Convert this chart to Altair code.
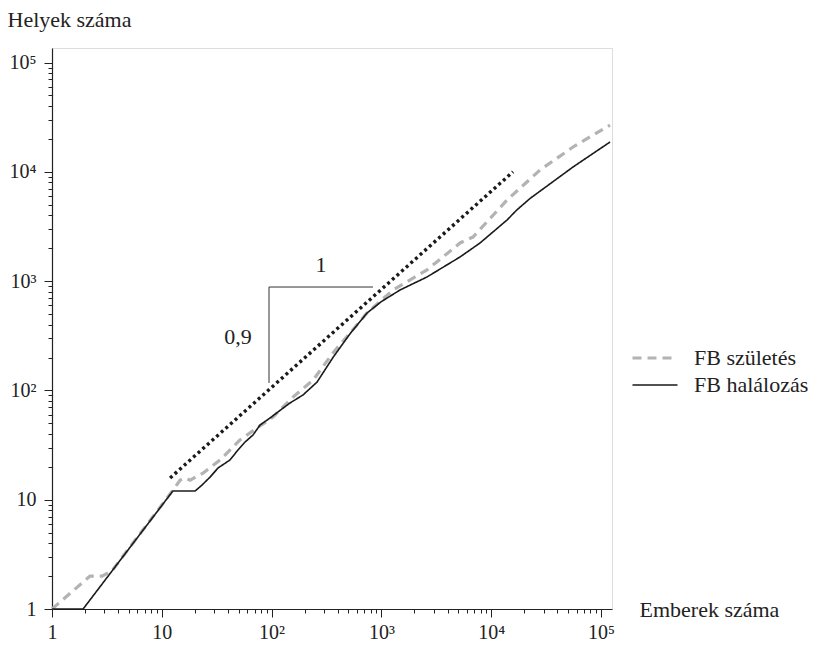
import altair as alt
import pandas as pd

# ---- data ----
birth_x = [1, 2.22, 2.85, 3.5, 11.9, 14.7, 16.3, 18.1, 23.7, 33.9, 51.5, 73.6, 103, 157, 238, 362,
           740, 1276, 2600, 5200, 6820, 13930, 27800, 55600, 120800]
birth_y = [1, 2.0, 2.0, 2.22, 11.3, 15.1, 15.8, 15.1, 17.5, 23.1, 35.2, 45.3, 57.1, 87, 124, 220,
           511, 829, 1265, 2233, 2530, 5520, 10380, 16870, 26800]

death_x = [1, 1.92, 12.6, 20.1, 23.2, 27.5, 32.5, 41.8, 49.4, 57.3, 67.7, 78.4, 96.7, 114, 147, 193,
           259, 362, 518, 740, 1000, 1476, 2600, 5200, 7910, 13930, 17000, 22550, 55600, 120800]
death_y = [1, 1, 12.0, 12.0, 13.6, 16.1, 19.5, 23.1, 28.5, 33.7, 39.1, 48.2, 55.9, 63.4, 76.7, 90.8,
           119, 200, 330, 511, 650, 829, 1091, 1663, 2233, 3622, 4450, 5700, 11070, 18740]

series_names = ["FB születés", "FB halálozás"]

fit_x = [11.9, 15800]
fit_y = [15.8, 10000]

tri_x = [94.7, 94.7, 838]
tri_y = [117, 883, 883]

ann_text = ["1", "0,9"]
ann_x = [282, 49.4]
ann_y = [1403, 308]

tick_vals = [m * 10 ** e for e in range(0, 5) for m in range(1, 10)] + [100000]

x_title = "Emberek száma"
y_title = "Helyek száma"

# ---- tables ----
rows = []
for i, (x, y) in enumerate(zip(birth_x, birth_y)):
    rows.append({"x": x, "y": y, "series": series_names[0], "i": i})
for i, (x, y) in enumerate(zip(death_x, death_y)):
    rows.append({"x": x, "y": y, "series": series_names[1], "i": i})
df = pd.DataFrame(rows)
fit_df = pd.DataFrame({"x": fit_x, "y": fit_y})
tri_df = pd.DataFrame({"x": tri_x, "y": tri_y, "i": list(range(len(tri_x)))})
ann_df = pd.DataFrame({"x": ann_x, "y": ann_y, "t": ann_text})

FONT = "Liberation Serif"
major_test = "indexof([1,10,100,1000,10000,100000], datum.value) >= 0"
label_expr = ("datum.value == 1 ? '1' : datum.value == 10 ? '10' : datum.value == 100 ? '10²' : "
              "datum.value == 1000 ? '10³' : datum.value == 10000 ? '10⁴' : "
              "datum.value == 100000 ? '10⁵' : ''")

xscale = alt.Scale(type="log", domain=[1, 125900], nice=False)
yscale = alt.Scale(type="log", domain=[1, 135800], nice=False)

xaxis = alt.Axis(values=tick_vals, labelExpr=label_expr, grid=False,
                 tickSize={"condition": {"test": major_test, "value": 8}, "value": 4},
                 tickColor="#222", domainColor="#222", tickWidth=1, domainWidth=1.2,
                 labelFont=FONT, labelFontSize=20, labelColor="#222", labelPadding=5,
                 labelFlush=False, labelOverlap=False, labelBound=False,
                 title=x_title, titleFont=FONT, titleFontSize=22, titleFontWeight="normal",
                 titleColor="#222", titleAngle=0, titleAlign="left", titleBaseline="middle",
                 titleX=587, titleY=0)
yaxis = alt.Axis(values=tick_vals, labelExpr=label_expr, grid=False,
                 tickSize={"condition": {"test": major_test, "value": 8}, "value": 4},
                 tickColor="#222", domainColor="#222", tickWidth=1, domainWidth=1.2,
                 labelFont=FONT, labelFontSize=20, labelColor="#222", labelPadding=8,
                 labelFlush=False, labelOverlap=False, labelBound=False,
                 title=y_title, titleFont=FONT, titleFontSize=22, titleFontWeight="normal",
                 titleColor="#222", titleAngle=0, titleAlign="left", titleBaseline="middle",
                 titleX=-45, titleY=-29)

legend = alt.Legend(title=None, orient="none", legendX=586, legendY=293,
                    symbolType="M-1.5,0H1.5", symbolSize=900, labelFont=FONT, labelFontSize=22,
                    labelColor="#222", labelOffset=22, rowPadding=0, padding=0,
                    symbolStrokeWidth=3)

curves = alt.Chart(df).mark_line(strokeCap="butt").encode(
    x=alt.X("x:Q", scale=xscale, axis=xaxis),
    y=alt.Y("y:Q", scale=yscale, axis=yaxis),
    color=alt.Color("series:N", scale=alt.Scale(domain=series_names, range=["#b3b3b3", "#1a1a1a"]),
                    legend=legend),
    strokeDash=alt.StrokeDash("series:N", scale=alt.Scale(domain=series_names, range=[[9, 6], [1, 0]]),
                              legend=legend),
    strokeWidth=alt.StrokeWidth("series:N", scale=alt.Scale(domain=series_names, range=[3.2, 1.6]),
                                legend=legend),
    order="i:Q",
)

fit = alt.Chart(fit_df).mark_line(color="#1a1a1a", strokeWidth=3.4, strokeDash=[3, 3.2],
                                  strokeCap="butt").encode(
    x=alt.X("x:Q", scale=xscale), y=alt.Y("y:Q", scale=yscale))

tri = alt.Chart(tri_df).mark_line(color="#333", strokeWidth=1).encode(
    x=alt.X("x:Q", scale=xscale), y=alt.Y("y:Q", scale=yscale), order="i:Q")

ann = alt.Chart(ann_df).mark_text(font=FONT, fontSize=22, color="#222", align="center",
                                  baseline="middle").encode(
    x=alt.X("x:Q", scale=xscale), y=alt.Y("y:Q", scale=yscale), text="t:N")

chart = alt.layer(tri, fit, curves, ann).properties(
    width=560, height=561,
    autosize=alt.AutoSizeParams(type="none"),
    padding={"left": 44, "top": 40, "right": 207, "bottom": 33},
).configure_view(stroke=None).configure(background="white")

chart.save("out.html", embed_options={"renderer": "svg", "actions": False})
